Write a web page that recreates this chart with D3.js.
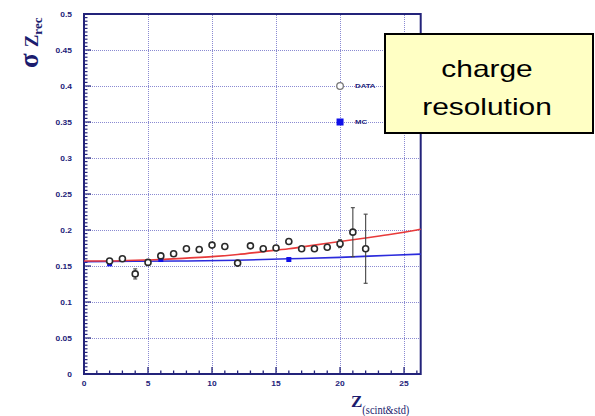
<!DOCTYPE html>
<html>
<head>
<meta charset="utf-8">
<script src="https://cdn.jsdelivr.net/npm/d3@7"></script>
<style>
  html, body { margin: 0; padding: 0; background: #fff; }
  svg { display: block; }
</style>
</head>
<body>
<svg id="chart" width="595" height="416"></svg>
<script>
// Measured charge resolution versus reconstructed charge
const dataZ   = [2, 3, 4, 5, 6, 7, 8, 9, 10, 11, 12, 13, 14, 15, 16, 17, 18, 19, 20, 21, 22];
const dataVal = [0.157, 0.160, 0.139, 0.155, 0.164, 0.167, 0.174, 0.173, 0.179, 0.177, 0.154,
                 0.178, 0.174, 0.175, 0.184, 0.174, 0.174, 0.176, 0.181, 0.197, 0.174];
const dataErr = [0, 0, 0.007, 0, 0, 0, 0, 0, 0, 0.002, 0, 0, 0, 0, 0, 0, 0, 0, 0.0055, 0.034, 0.048];

// Monte Carlo points
const mcZ   = [2, 6, 16];
const mcVal = [0.153, 0.159, 0.159];

// Fit curves (data: red, MC: blue)
const fitDataZ   = [0, 2, 4, 6, 8, 10, 12, 14, 16, 18, 20, 22, 24, 26, 26.3];
const fitDataVal = [0.157, 0.157, 0.158, 0.159, 0.161, 0.163, 0.166, 0.170, 0.174, 0.179, 0.184, 0.189, 0.194, 0.200, 0.201];
const fitMcZ   = [0, 4, 8, 12, 16, 20, 24, 26.3];
const fitMcVal = [0.156, 0.1565, 0.157, 0.158, 0.160, 0.162, 0.165, 0.1665];

// Axis ticks
const xMajor = [0, 5, 10, 15, 20, 25];
const xLabels = ["0", "5", "10", "15", "20", "25"];
const yMajor = [0, 0.05, 0.1, 0.15, 0.2, 0.25, 0.3, 0.35, 0.4, 0.45, 0.5];
const yLabels = ["0", "0.05", "0.1", "0.15", "0.2", "0.25", "0.3", "0.35", "0.4", "0.45", "0.5"];

// Legend entries
const legendZ = 20;
const legendData = { label: "DATA", value: 0.40 };
const legendMc = { label: "MC", value: 0.35 };

const noteLines = ["charge", "resolution"];

const svg = d3.select("#chart");
const navy = "#23237a";
const gridCol = "#8a8ad2";

const x = d3.scaleLinear().domain([0, 26.3]).range([84, 420.7]);
const y = d3.scaleLinear().domain([0, 0.5]).range([374, 14]);
const px = v => Math.round(v) + 0.5;

const stretch = "scale(1.3,1)";

// grid
const grid = svg.append("g").attr("shape-rendering", "crispEdges");
grid.selectAll("line.gx").data(xMajor.filter(d => d > 0)).join("line")
  .attr("x1", d => px(x(d))).attr("x2", d => px(x(d)))
  .attr("y1", y(0)).attr("y2", y(0.5))
  .attr("stroke", gridCol).attr("stroke-width", 1).attr("stroke-dasharray", "1,1");
grid.selectAll("line.gy").data(yMajor.filter(d => d > 0 && d < 0.5)).join("line")
  .attr("x1", x(0)).attr("x2", x(26.3))
  .attr("y1", d => px(y(d))).attr("y2", d => px(y(d)))
  .attr("stroke", gridCol).attr("stroke-width", 1).attr("stroke-dasharray", "1,1");

// minor + major ticks (inward)
const xTicksAll = d3.range(0, 27, 1);
svg.append("g").selectAll("line").data(xTicksAll).join("line")
  .attr("x1", d => x(d)).attr("x2", d => x(d))
  .attr("y1", y(0)).attr("y2", d => y(0) - (d % 5 === 0 ? 7 : 3.5))
  .attr("stroke", navy).attr("stroke-width", 1.3);
const yTicksAll = d3.range(0, 101, 1).map(i => i * 0.005);
svg.append("g").selectAll("line").data(yTicksAll).join("line")
  .attr("x1", x(0)).attr("x2", (d, i) => x(0) + (i % 10 === 0 ? 7 : 3.5))
  .attr("y1", d => y(d)).attr("y2", d => y(d))
  .attr("stroke", navy).attr("stroke-width", 1.2);

// frame
svg.append("rect")
  .attr("x", x(0)).attr("y", y(0.5))
  .attr("width", x(26.3) - x(0)).attr("height", y(0) - y(0.5))
  .attr("fill", "none").attr("stroke", navy).attr("stroke-width", 2);

// tick labels
svg.append("g").selectAll("text").data(xMajor).join("text")
  .attr("transform", d => `translate(${x(d)},${y(0) + 12}) ${stretch}`)
  .attr("text-anchor", "middle")
  .attr("font-family", "Liberation Sans, Arial, sans-serif")
  .attr("font-weight", "bold").attr("font-size", 6.5).attr("fill", navy)
  .text((d, i) => xLabels[i]);
svg.append("g").selectAll("text").data(yMajor).join("text")
  .attr("transform", d => `translate(${x(0) - 12},${y(d) + 2.5}) ${stretch}`)
  .attr("text-anchor", "end")
  .attr("font-family", "Liberation Sans, Arial, sans-serif")
  .attr("font-weight", "bold").attr("font-size", 6.5).attr("fill", navy)
  .text((d, i) => yLabels[i]);

// fit curves
const line = d3.line().x(d => x(d[0])).y(d => y(d[1])).curve(d3.curveMonotoneX);
svg.append("path")
  .attr("d", line(fitMcZ.map((z, i) => [z, fitMcVal[i]])))
  .attr("fill", "none").attr("stroke", "#2b2bdc").attr("stroke-width", 1.6);
svg.append("path")
  .attr("d", line(fitDataZ.map((z, i) => [z, fitDataVal[i]])))
  .attr("fill", "none").attr("stroke", "#e83a3a").attr("stroke-width", 1.6);

// MC squares
const sq = 5;
svg.append("g").selectAll("rect").data(mcZ).join("rect")
  .attr("x", d => x(d) - sq / 2)
  .attr("y", (d, i) => y(mcVal[i]) - sq / 2)
  .attr("width", sq).attr("height", sq)
  .attr("fill", "#1010e8");

// data error bars
const errG = svg.append("g").attr("stroke", "#444").attr("stroke-width", 1.1);
dataZ.forEach((z, i) => {
  const e = dataErr[i];
  if (e <= 0) return;
  const cx = x(z), y1 = y(dataVal[i] + e), y2 = y(dataVal[i] - e);
  errG.append("line").attr("x1", cx).attr("x2", cx).attr("y1", y1).attr("y2", y2);
  errG.append("line").attr("x1", cx - 2).attr("x2", cx + 2).attr("y1", y1).attr("y2", y1);
  errG.append("line").attr("x1", cx - 2).attr("x2", cx + 2).attr("y1", y2).attr("y2", y2);
});

// data circles
svg.append("g").selectAll("circle").data(dataZ).join("circle")
  .attr("cx", d => x(d))
  .attr("cy", (d, i) => y(dataVal[i]))
  .attr("r", 3)
  .attr("fill", "#fff").attr("stroke", "#2a2a2a").attr("stroke-width", 1.6);

// legend
svg.append("circle")
  .attr("cx", x(legendZ)).attr("cy", y(legendData.value)).attr("r", 3.3)
  .attr("fill", "#fff").attr("stroke", "#777").attr("stroke-width", 1.3);
svg.append("rect")
  .attr("x", x(legendZ) - 3.5).attr("y", y(legendMc.value) - 3.5)
  .attr("width", 7).attr("height", 7).attr("fill", "#1010e8");
[legendData, legendMc].forEach(d => {
  svg.append("text")
    .attr("transform", `translate(${x(legendZ) + 15},${y(d.value) + 2.3}) ${stretch}`)
    .attr("font-family", "Liberation Sans, Arial, sans-serif")
    .attr("font-weight", "bold").attr("font-size", 6).attr("fill", navy)
    .text(d.label);
});

// axis titles
const yt = svg.append("text")
  .attr("transform", "translate(38,68) rotate(-90)")
  .attr("font-family", "Liberation Serif, Times New Roman, serif")
  .attr("fill", "#1c1c6e").attr("font-weight", "bold");
yt.append("tspan").attr("font-size", 27).text("σ");
yt.append("tspan").attr("font-size", 19).attr("dx", 6).text("Z");
yt.append("tspan").attr("font-size", 13).attr("dy", 4).text("rec");

const xt = svg.append("text")
  .attr("transform", "translate(351,407)")
  .attr("font-family", "Liberation Serif, Times New Roman, serif")
  .attr("fill", "#1c1c6e");
xt.append("tspan").attr("font-size", 17).attr("font-weight", "bold").text("Z");
xt.append("tspan").attr("font-size", 12).attr("dy", 7)
  .attr("textLength", 47).attr("lengthAdjust", "spacingAndGlyphs").text("(scint&std)");

// note box
svg.append("rect")
  .attr("x", 385).attr("y", 34).attr("width", 208).attr("height", 99)
  .attr("fill", "#ffffc4").attr("stroke", "#000").attr("stroke-width", 2);
noteLines.forEach((t, i) => {
  svg.append("text")
    .attr("transform", `translate(487,${77 + i * 38}) ${stretch}`)
    .attr("text-anchor", "middle")
    .attr("font-family", "Liberation Sans, Arial, sans-serif")
    .attr("font-size", 23).attr("fill", "#000")
    .text(t);
});
</script>
</body>
</html>
